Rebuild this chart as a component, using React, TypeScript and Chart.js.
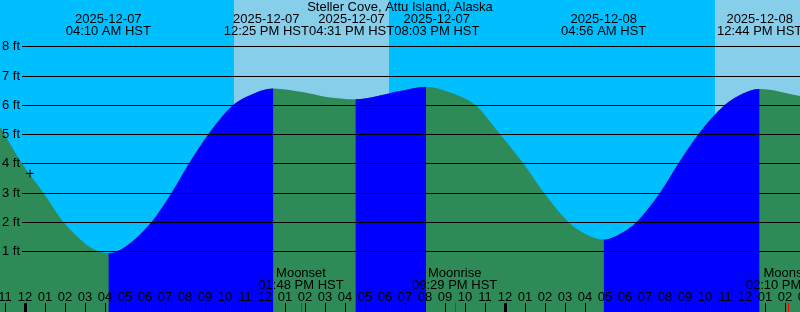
import { useEffect, useRef } from "react";
import { Chart, registerables } from "chart.js";

Chart.register(...registerables);

// ---- data (hours are measured from 2025-12-07 00:00 HST) ----
const chartTitle = "Steller Cove, Attu Island, Alaska";

const tideHours = [
  -1.25, -0.15, 0.92, 1.92, 3.0, 3.58, 4.17, 5.0, 6.33, 7.33, 8.2, 9.17, 10.42, 11.25, 12.42,
  14.0, 15.0, 16.52, 18.75, 20.05, 21.25, 22.5, 23.75, 24.92, 25.95, 27.17, 28.0, 28.93,
  29.9, 30.58, 31.75, 32.67, 33.67, 35.0, 35.9, 36.73, 38.75,
];
const tideFeet = [
  5.25, 4.0, 3.0, 2.0, 1.27, 1.03, 0.94, 1.15, 2.0, 3.0, 4.0, 5.0, 6.0, 6.33, 6.56,
  6.42, 6.28, 6.19, 6.47, 6.62, 6.42, 6.0, 5.0, 4.0, 3.0, 2.0, 1.6, 1.4,
  1.65, 2.0, 3.0, 4.0, 5.0, 6.0, 6.39, 6.54, 6.3,
];

const eventDates = ["2025-12-07", "2025-12-07", "2025-12-07", "2025-12-07", "2025-12-08", "2025-12-08"];
const eventTimes = ["04:10 AM HST", "12:25 PM HST", "04:31 PM HST", "08:03 PM HST", "04:56 AM HST", "12:44 PM HST"];
const eventHours = [4.167, 12.417, 16.517, 20.05, 28.933, 36.733];

const moonNames = ["Moonset", "Moonrise", "Moonset"];
const moonTimes = ["01:48 PM HST", "09:29 PM HST", "02:10 PM HST"];
const moonHours = [13.8, 21.483, 38.167];

const sunriseHours = [10.45, 34.5];
const sunsetHours = [18.2, 42.2];

const feetTicks = [1, 2, 3, 4, 5, 6, 7, 8];
const feetLabels = ["1 ft", "2 ft", "3 ft", "4 ft", "5 ft", "6 ft", "7 ft", "8 ft"];

const markerHours = [0.25];
const markerFeet = [3.66];

const xMin = -1.25;
const xMax = 38.75;
const yMin = -1.072;
const yMax = 9.58;

// ---- colours ----
const NIGHT = "#00BFFF";
const DAY = "#87CEEB";
const RISING = "#0000FF";
const FALLING = "#2E8B57";
const FONT = '13px "Liberation Sans", Arial, sans-serif';

const decor = {
  id: "tideDecor",
  beforeDraw(chart: any) {
    const { ctx, scales } = chart;
    const x = scales.x;
    ctx.save();
    ctx.fillStyle = NIGHT;
    ctx.fillRect(0, 0, chart.width, chart.height);
    ctx.fillStyle = DAY;
    for (let i = 0; i < sunriseHours.length; i++) {
      const a = Math.round(x.getPixelForValue(sunriseHours[i]));
      const b = Math.round(x.getPixelForValue(sunsetHours[i]));
      ctx.fillRect(a, 0, b - a, chart.height);
    }
    ctx.restore();
  },
  afterDatasetsDraw(chart: any) {
    const { ctx, scales, width, height } = chart;
    const x = scales.x;
    const y = scales.y;
    ctx.save();
    ctx.font = FONT;
    ctx.fillStyle = "#000";
    ctx.strokeStyle = "#000";
    ctx.textBaseline = "middle";

    // horizontal grid + labels
    ctx.lineWidth = 1;
    for (let i = 0; i < feetTicks.length; i++) {
      const py = Math.round(y.getPixelForValue(feetTicks[i])) + 0.5;
      ctx.beginPath();
      ctx.moveTo(22, py);
      ctx.lineTo(width, py);
      ctx.stroke();
      ctx.textAlign = "left";
      ctx.fillText(feetLabels[i], 2, py);
    }

    // title
    ctx.textAlign = "center";
    ctx.fillText(chartTitle, width / 2, 7.5);

    // high / low labels, de-overlapped
    const widths = eventHours.map((_, i) =>
      Math.max(ctx.measureText(eventDates[i]).width, ctx.measureText(eventTimes[i]).width)
    );
    let clusters = eventHours.map((h, i) => ({ idx: [i], centers: [x.getPixelForValue(h)] }));
    const layout = (c: any) => {
      const total = c.idx.reduce((s: number, i: number) => s + widths[i], 0);
      const mid = c.centers.reduce((s: number, v: number) => s + v, 0) / c.centers.length;
      return { left: mid - total / 2, right: mid + total / 2 };
    };
    let merged = true;
    while (merged) {
      merged = false;
      for (let k = 0; k < clusters.length - 1; k++) {
        const a = layout(clusters[k]);
        const b = layout(clusters[k + 1]);
        if (a.right > b.left) {
          clusters[k] = {
            idx: clusters[k].idx.concat(clusters[k + 1].idx),
            centers: clusters[k].centers.concat(clusters[k + 1].centers),
          };
          clusters.splice(k + 1, 1);
          merged = true;
          break;
        }
      }
    }
    ctx.textAlign = "center";
    for (const c of clusters) {
      let left = layout(c).left;
      for (const i of c.idx) {
        const cx = left + widths[i] / 2;
        ctx.fillText(eventDates[i], cx, 19.5);
        ctx.fillText(eventTimes[i], cx, 31.5);
        left += widths[i];
      }
    }

    // moon labels
    for (let i = 0; i < moonHours.length; i++) {
      const px = x.getPixelForValue(moonHours[i]);
      ctx.fillText(moonNames[i], px, 273.5);
      ctx.fillText(moonTimes[i], px, 285.5);
    }

    // hour ticks and labels
    for (let h = Math.floor(xMin) - 1; h <= Math.ceil(xMax) + 1; h++) {
      const px = Math.round(x.getPixelForValue(h));
      const hod = ((h % 24) + 24) % 24;
      const h12 = hod % 12 === 0 ? 12 : hod % 12;
      const lbl = (h12 < 10 ? "0" : "") + h12;
      ctx.fillStyle = "#000";
      ctx.fillText(lbl, px, 297.5);
      if (hod === 0) {
        ctx.fillRect(px - 1, 303, 3, height - 303);
      } else {
        ctx.fillRect(px, 303, 1, height - 303);
      }
    }
    ctx.fillStyle = "#FF0000";
    for (let i = 0; i < moonHours.length; i++) {
      const px = Math.round(x.getPixelForValue(moonHours[i]));
      ctx.fillRect(px, 303, 1, height - 303);
    }
    ctx.restore();
  },
};

export default function App() {
  const ref = useRef<HTMLCanvasElement | null>(null);
  useEffect(() => {
    document.body.style.margin = "0";
    const canvas = ref.current;
    if (!canvas) return;
    const tide = tideHours.map((h, i) => ({ x: h, y: tideFeet[i] }));
    const marker = markerHours.map((h, i) => ({ x: h, y: markerFeet[i] }));
    const chart = new Chart(canvas, {
      type: "line",
      data: {
        datasets: [
          {
            data: marker,
            showLine: false,
            pointStyle: "cross",
            pointRadius: 4,
            pointBorderWidth: 1,
            pointBorderColor: "#000",
            borderColor: "#000",
            fill: false,
            order: 0,
          } as any,
          {
            // rising sections, drawn over the falling-colour underlay
            data: tide,
            borderWidth: 0,
            borderColor: "rgba(0,0,0,0)",
            pointRadius: 0,
            fill: "start",
            backgroundColor: RISING,
            cubicInterpolationMode: "monotone",
            segment: {
              backgroundColor: (c: any) => (c.p1.parsed.y > c.p0.parsed.y ? RISING : "rgba(0,0,0,0)"),
            },
            order: 1,
          } as any,
          {
            // whole tide area in the falling colour
            data: tide,
            borderWidth: 0,
            borderColor: "rgba(0,0,0,0)",
            pointRadius: 0,
            fill: "start",
            backgroundColor: FALLING,
            cubicInterpolationMode: "monotone",
            order: 2,
          } as any,
        ],
      },
      options: {
        animation: false,
        responsive: false,
        maintainAspectRatio: false,
        clip: false,
        layout: { padding: 0, autoPadding: false },
        plugins: { legend: { display: false }, tooltip: { enabled: false }, title: { display: false } },
        scales: {
          x: { type: "linear", min: xMin, max: xMax, display: false },
          y: { type: "linear", min: yMin, max: yMax, display: false },
        },
      } as any,
      plugins: [decor],
    });
    return () => chart.destroy();
  }, []);
  return (
    <div style={{ width: 800, height: 312 }}>
      <canvas ref={ref} width={800} height={312} style={{ display: "block" }} />
    </div>
  );
}
